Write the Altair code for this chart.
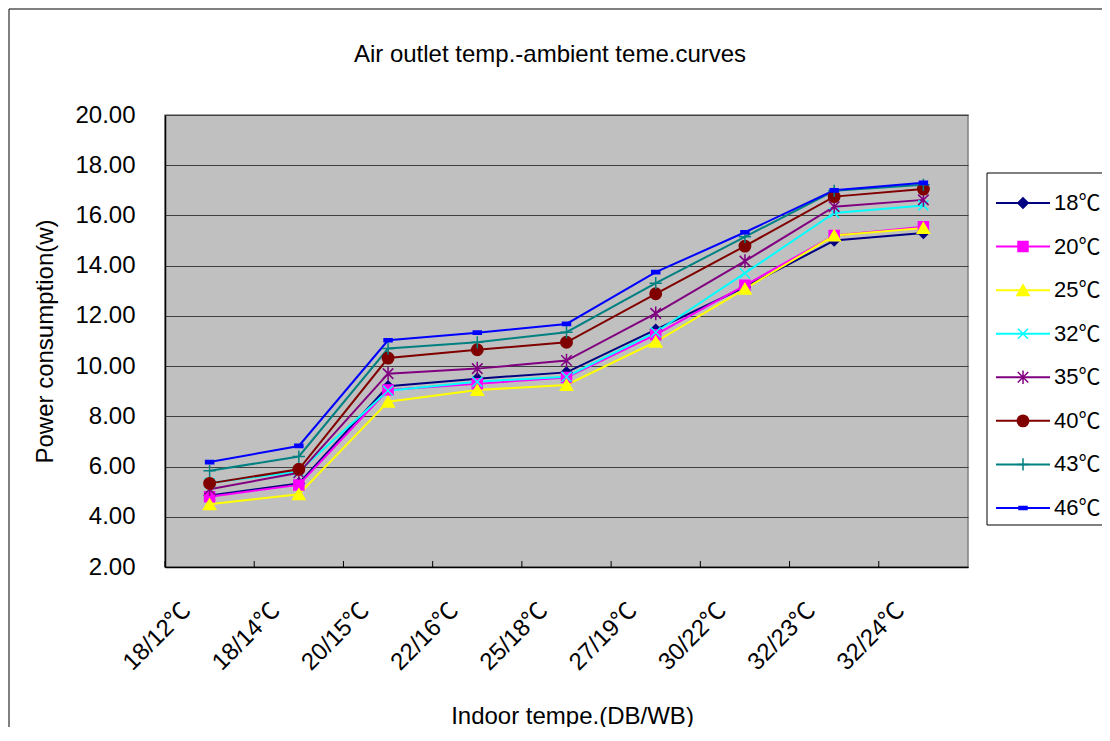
import altair as alt
import pandas as pd

title_text = ["Air outlet temp.-ambient teme.curves"]
categories = ["18/12℃", "18/14℃", "20/15℃", "22/16℃", "25/18℃", "27/19℃", "30/22℃", "32/23℃", "32/24℃"]
series_names = ["18℃", "20℃", "25℃", "32℃", "35℃", "40℃", "43℃", "46℃"]

s18 = [4.85, 5.33, 9.20, 9.50, 9.75, 11.45, 13.15, 15.00, 15.30]
s20 = [4.80, 5.27, 9.05, 9.30, 9.55, 11.25, 13.22, 15.20, 15.55]
s25 = [4.50, 4.90, 8.58, 9.05, 9.25, 10.97, 13.08, 15.20, 15.50]
s32 = [5.35, 5.80, 9.02, 9.38, 9.58, 11.35, 13.70, 16.10, 16.40]
s35 = [5.10, 5.75, 9.70, 9.90, 10.22, 12.10, 14.18, 16.35, 16.62]
s40 = [5.33, 5.89, 10.32, 10.65, 10.95, 12.88, 14.78, 16.75, 17.05]
s43 = [5.83, 6.40, 10.70, 10.95, 11.35, 13.30, 15.15, 16.98, 17.22]
s46 = [6.18, 6.82, 11.03, 11.33, 11.68, 13.74, 15.33, 17.00, 17.30]

all_series = [s18, s20, s25, s32, s35, s40, s43, s46]

colors = ["#000080", "#FF00FF", "#FFFF00", "#00FFFF", "#800080", "#800000", "#008080", "#0000FF"]
shapes = [
    "diamond",
    "square",
    "triangle-up",
    "M-1,-1L1,1M-1,1L1,-1",
    "M-1,-1L1,1M-1,1L1,-1M0,-1.3L0,1.3",
    "circle",
    "M0,-1L0,1M-1,0L1,0",
    "M-1,-0.4H1V0.4H-1Z",
]
sizes = [110, 100, 150, 100, 110, 130, 150, 64]

rows = []
for name, vals, sz in zip(series_names, all_series, sizes):
    for i, (c, v) in enumerate(zip(categories, vals)):
        rows.append({"cat": c, "idx": i, "value": v, "series": name, "sz": sz})
df = pd.DataFrame(rows)

leg = pd.DataFrame({"series": series_names, "sz": sizes})
cat_df = pd.DataFrame({"cat": categories})
one = pd.DataFrame({"a": [0]})
title_df = pd.DataFrame({"t": title_text})

FONT = "Liberation Sans, Arial, Noto Sans CJK SC"
W, H = 803, 452

color_scale = alt.Scale(domain=series_names, range=colors)
shape_scale = alt.Scale(domain=series_names, range=shapes)
x_scale = alt.Scale(type="band", domain=categories, paddingInner=0, paddingOuter=0)
y_scale = alt.Scale(domain=[2, 20], nice=False, zero=False)

x_enc = alt.X(
    "cat:N",
    sort=categories,
    scale=x_scale,
    title="Indoor tempe.(DB/WB)",
    axis=alt.Axis(
        labelAngle=-45,
        labelAlign="right",
        labelBaseline="top",
        labelOffset=-31,
        labelPadding=31,
        labelFontSize=24,
        labelFont=FONT,
        labelColor="#000000",
        ticks=False,
        grid=False,
        domainColor="#000000",
        domainWidth=1.5,
        titleFontSize=24,
        titleFont=FONT,
        titleFontWeight="normal",
        titleColor="#000000",
        titleBaseline="alphabetic",
        titleX=407,
        titleY=156,
    ),
)

lines = alt.Chart(df).mark_line(strokeWidth=2).encode(
    x=x_enc,
    y=alt.Y(
        "value:Q",
        scale=y_scale,
        title="Power consumption(w)",
        axis=alt.Axis(
            values=[2, 4, 6, 8, 10, 12, 14, 16, 18, 20],
            format=".2f",
            labelFontSize=24,
            labelFont=FONT,
            labelColor="#000000",
            labelPadding=30,
            ticks=False,
            grid=True,
            gridColor="#404040",
            gridWidth=1,
            domainColor="#000000",
            domainWidth=1.5,
            titleFontSize=24,
            titleFont=FONT,
            titleFontWeight="normal",
            titleColor="#000000",
            titleBaseline="alphabetic",
            titleX=-113,
            titleY=226,
        ),
    ),
    color=alt.Color("series:N", scale=color_scale, legend=None),
    detail="series:N",
    order=alt.Order("idx:Q"),
)

points = alt.Chart(df).mark_point(filled=True, opacity=1, strokeWidth=1.5).encode(
    x=alt.X("cat:N", sort=categories, scale=x_scale),
    y=alt.Y("value:Q", scale=y_scale, axis=None),
    shape=alt.Shape("series:N", scale=shape_scale, legend=None),
    fill=alt.Fill("series:N", scale=color_scale, legend=None),
    stroke=alt.Stroke("series:N", scale=color_scale, legend=None),
    size=alt.Size("sz:Q", scale=None, legend=None),
)

ticks = alt.Chart(cat_df).mark_rule(color="#000000", strokeWidth=1).encode(
    x=alt.X("cat:N", sort=categories, scale=x_scale, bandPosition=0),
    y=alt.value(H - 6),
    y2=alt.value(H),
)

leg_y = alt.Y("series:N", scale=alt.Scale(type="point", domain=series_names, range=[88, 393], padding=0), axis=None)

leg_rules = alt.Chart(leg).mark_rule(strokeWidth=2).encode(
    x=alt.value(831),
    x2=alt.value(885),
    y=leg_y,
    color=alt.Color("series:N", scale=color_scale, legend=None),
)
leg_points = alt.Chart(leg).mark_point(filled=True, opacity=1, strokeWidth=1.5).encode(
    x=alt.value(858),
    y=leg_y,
    shape=alt.Shape("series:N", scale=shape_scale, legend=None),
    fill=alt.Fill("series:N", scale=color_scale, legend=None),
    stroke=alt.Stroke("series:N", scale=color_scale, legend=None),
    size=alt.Size("sz:Q", scale=None, legend=None),
)
leg_text = alt.Chart(leg).mark_text(align="left", baseline="middle", fontSize=22, font=FONT, color="#000000").encode(
    x=alt.value(889),
    y=leg_y,
    text="series:N",
)
leg_box = alt.Chart(one).mark_rect(fill="#FFFFFF", fillOpacity=0, stroke="#000000", strokeWidth=1).encode(
    x=alt.value(822), x2=alt.value(960), y=alt.value(58), y2=alt.value(410)
)
outer = alt.Chart(one).mark_rect(fill="#FFFFFF", fillOpacity=0, stroke="#000000", strokeWidth=1).encode(
    x=alt.value(-156), x2=alt.value(960), y=alt.value(-106), y2=alt.value(640)
)
title = alt.Chart(title_df).mark_text(
    align="center", baseline="alphabetic", fontSize=24, font=FONT, color="#000000"
).encode(
    x=alt.value(385), y=alt.value(-53), text="t:N"
)

chart = alt.layer(
    lines, points, ticks, leg_rules, leg_points, leg_text, leg_box, outer, title
).resolve_scale(
    y="independent"
).properties(
    width=W,
    height=H,
    padding={"left": 157, "top": 107, "right": 134, "bottom": 160},
    autosize=alt.AutoSizeParams(type="none"),
).configure(
    background="#FFFFFF",
    view=alt.ViewConfig(fill="#C0C0C0", stroke="#808080", strokeWidth=1.5),
)

chart.save("out.html", embed_options={"renderer": "svg", "actions": False})
